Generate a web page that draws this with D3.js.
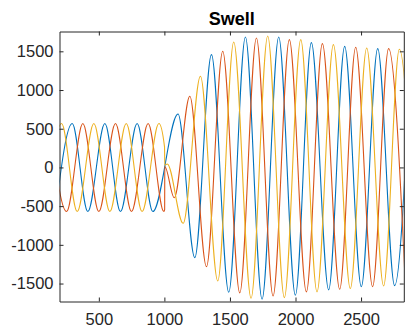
<!DOCTYPE html>
<html>
<head>
<meta charset="utf-8">
<script src="https://cdn.jsdelivr.net/npm/d3@7/dist/d3.min.js"></script>
<style>
  html, body { margin: 0; padding: 0; background: #fff; }
  svg { display: block; }
  .axis text { font-family: "Liberation Sans", Arial, Helvetica, sans-serif; font-size: 16.5px; fill: #262626; }
  .axis line, .axis path { stroke: #262626; stroke-width: 1; }
</style>
</head>
<body>
<svg id="chart" width="405" height="331"></svg>
<script>
// Three-phase voltage during a swell event: turning points (sample index, value) of each phase.
const phaseAT = [170, 297, 416, 546, 665, 792, 912, 1104, 1232, 1359, 1491, 1618, 1745, 1872, 1999, 2121, 2253, 2375, 2502, 2627, 2756, 2880];
const phaseAV = [-567, 567, -570, 567, -570, 567, -570, 690, -1165, 1457, -1612, 1685, -1703, 1685, -1651, 1612, -1582, 1564, -1540, 1535, -1527, 1525];

const phaseBT = [128, 254, 378, 500, 627, 749, 876, 996, 1002, 1003, 1075, 1194, 1321, 1445, 1575, 1702, 1829, 1953, 2083, 2205, 2337, 2459, 2588, 2710, 2838];
const phaseBV = [567, -570, 567, -570, 567, -570, 567, -570, -545, 12, -392, 920, -1282, 1500, -1621, 1672, -1660, 1651, -1608, 1599, -1574, 1552, -1540, 1535, -1525];

const phaseCT = [92, 216, 335, 462, 584, 709, 830, 958, 1001, 1003, 1022, 1143, 1275, 1407, 1529, 1661, 1788, 1915, 2040, 2164, 2289, 2418, 2543, 2672, 2792, 2920];
const phaseCV = [-567, 567, -570, 567, -570, 567, -570, 567, 265, 28, 45, -722, 1178, -1467, 1620, -1690, 1697, -1682, 1651, -1608, 1586, -1565, 1543, -1531, 1526, -1520];

const xTicks = [500, 1000, 1500, 2000, 2500];
const yTicks = [-1500, -1000, -500, 0, 500, 1000, 1500];
const xLimits = [200, 2826];
const yLimits = [-1732, 1756];
const titleText = "Swell";

const phases = [
  { t: phaseAT, v: phaseAV, color: "#0072BD" },
  { t: phaseBT, v: phaseBV, color: "#D95319" },
  { t: phaseCT, v: phaseCV, color: "#EDB120" }
];

const plot = { left: 59.5, right: 403.8, top: 31.5, bottom: 301.5 };

const svg = d3.select("#chart");

const x = d3.scaleLinear().domain(xLimits).range([plot.left, plot.right]);
const y = d3.scaleLinear().domain(yLimits).range([plot.bottom, plot.top]);

svg.append("defs").append("clipPath").attr("id", "plot-clip")
  .append("rect")
  .attr("x", plot.left).attr("y", plot.top)
  .attr("width", plot.right - plot.left).attr("height", plot.bottom - plot.top);

// Waveforms
const line = d3.line()
  .x(d => x(d[0]))
  .y(d => y(d[1]))
  .curve(d3.curveMonotoneX);

svg.append("g").attr("clip-path", "url(#plot-clip)")
  .selectAll("path")
  .data(phases)
  .join("path")
  .attr("fill", "none")
  .attr("stroke", d => d.color)
  .attr("stroke-width", 1.1)
  .attr("stroke-linejoin", "round")
  .attr("d", d => line(d.t.map((t, i) => [t, d.v[i]])));

// Plain hyphen-minus labels
const plainNumber = d => String(d);

// Axes box with inward ticks on all four sides
const tick = 4;
svg.append("g").attr("class", "axis")
  .attr("transform", `translate(0,${plot.bottom})`)
  .call(d3.axisBottom(x).tickValues(xTicks).tickSizeInner(-tick).tickSizeOuter(0).tickPadding(11.5).tickFormat(plainNumber));

svg.append("g").attr("class", "axis")
  .attr("transform", `translate(0,${plot.top})`)
  .call(d3.axisTop(x).tickValues(xTicks).tickSizeInner(-tick).tickSizeOuter(0).tickFormat(""));

svg.append("g").attr("class", "axis")
  .attr("transform", `translate(${plot.left},0)`)
  .call(d3.axisLeft(y).tickValues(yTicks).tickSizeInner(-tick).tickSizeOuter(0).tickPadding(6).tickFormat(plainNumber));

svg.append("g").attr("class", "axis")
  .attr("transform", `translate(${plot.right},0)`)
  .call(d3.axisRight(y).tickValues(yTicks).tickSizeInner(-tick).tickSizeOuter(0).tickFormat(""));

svg.selectAll(".axis .domain").attr("fill", "none");

// Title
svg.append("text")
  .attr("x", (plot.left + plot.right) / 2)
  .attr("y", 25)
  .attr("text-anchor", "middle")
  .attr("font-family", "Liberation Sans, Arial, Helvetica, sans-serif")
  .attr("font-weight", "bold")
  .attr("font-size", "18px")
  .attr("fill", "#000")
  .text(titleText);
</script>
</body>
</html>
